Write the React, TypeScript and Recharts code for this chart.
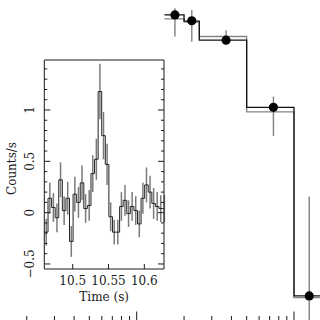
import React from 'react';
import { ComposedChart, Line, Scatter, ErrorBar, XAxis, YAxis } from 'recharts';

// main panel: log-log spectrum, only the upper right part is in the crop
const binEdges = [15, 20, 25, 50, 100, 150];
const modelBlack = [6.5, 5.45, 3.15, 0.455, 0.002];
const modelGray = [5.8, 5.3, 3.5, 0.4, 0.0019];
const pointE = [17.5, 22.4, 37, 74, 125];
const pointFlux = [6.5, 5.5, 3.15, 0.455, 0.002];
const pointLow = [3.5, 3.0, 2.8, 0.2, 0.0005];
const pointHigh = [7.9, 7.5, 4.2, 0.62, 0.035];
const mainTicks = [2, 3, 4, 5, 6, 7, 8, 9, 10, 20, 30, 40, 50, 60, 70, 80, 90, 100];
const mainMajor = [10, 100];

// inset: light curve, 5 ms bins
const lcStart = 10.4605;
const lcBin = 0.005;
const lcRate = [
  -0.19, 0.14, 0.05, -0.05, 0.32, 0.02, 0.14, -0.28, 0.18, 0.1, 0.29, 0.04, 0.07, 0.38, 0.52, 1.18, 0.75,
  0.47, -0.04, -0.19, -0.19, 0.06, 0.12, -0.01, 0.06, 0.02, -0.11, 0.14, 0.27, 0.2, 0.09, 0.06, 0.04, 0.04,
];
const lcErr = [
  0.13, 0.15, 0.14, 0.14, 0.17, 0.14, 0.16, 0.15, 0.17, 0.15, 0.17, 0.14, 0.15, 0.18, 0.2, 0.27, 0.23,
  0.2, 0.14, 0.12, 0.12, 0.14, 0.15, 0.13, 0.14, 0.14, 0.13, 0.15, 0.17, 0.16, 0.15, 0.14, 0.13, 0.13,
];
const insetXTicks = [10.5, 10.55, 10.6];
const insetYTicks = [-0.5, -0.4, -0.3, -0.2, -0.1, 0, 0.1, 0.2, 0.3, 0.4, 0.5, 0.6, 0.7, 0.8, 0.9, 1, 1.1, 1.2, 1.3, 1.4];
const insetYLabels = [-0.5, 0, 0.5, 1];

const FONT = 'DejaVu Serif';
const INK = '#1a1a1a';

const steps = binEdges.map((x, i) => ({
  x,
  black: modelBlack[Math.min(i, modelBlack.length - 1)],
  gray: modelGray[Math.min(i, modelGray.length - 1)],
}));
const points = pointE.map((x, i) => ({
  x,
  y: pointFlux[i],
  err: [pointFlux[i] - pointLow[i], pointHigh[i] - pointFlux[i]],
}));
const lcSteps = lcRate
  .map((c, i) => ({ t: lcStart + i * lcBin, c }))
  .concat([{ t: lcStart + lcRate.length * lcBin, c: lcRate[lcRate.length - 1] }]);
const lcPoints = lcRate.map((c, i) => ({ t: lcStart + (i + 0.5) * lcBin, c, e: lcErr[i] }));

const fmt = (v: number) => (v < 0 ? '\u2212' + String(-v) : String(v));

const MainTick = (p: any) => {
  const len = mainMajor.includes(p.payload.value) ? 8.5 : 4;
  return <line x1={p.x} y1={p.y} x2={p.x} y2={p.y - len} stroke={INK} strokeWidth={1} />;
};

const InsetBottomTick = (p: any) => (
  <g>
    <line x1={p.x} y1={p.y} x2={p.x} y2={p.y - 5} stroke={INK} />
    <text x={p.x} y={p.y + 16} textAnchor="middle" fontFamily={FONT} fontSize={12} fill={INK}>
      {String(p.payload.value)}
    </text>
  </g>
);

const InsetTopTick = (p: any) => <line x1={p.x} y1={p.y} x2={p.x} y2={p.y + 5} stroke={INK} />;

const isMajorY = (v: number) => insetYLabels.some((m) => Math.abs(m - v) < 1e-6);

const InsetLeftTick = (p: any) => {
  const v = p.payload.value;
  const major = isMajorY(v);
  const lx = p.x - 14;
  return (
    <g>
      <line x1={p.x} y1={p.y} x2={p.x + (major ? 6 : 3)} y2={p.y} stroke={INK} />
      {major && (
        <text
          x={lx}
          y={p.y}
          transform={`rotate(-90, ${lx}, ${p.y})`}
          textAnchor="middle"
          dominantBaseline="central"
          fontFamily={FONT}
          fontSize={12}
          fill={INK}
        >
          {fmt(v)}
        </text>
      )}
    </g>
  );
};

const InsetRightTick = (p: any) => {
  const major = isMajorY(p.payload.value);
  return <line x1={p.x} y1={p.y} x2={p.x - (major ? 6 : 3)} y2={p.y} stroke={INK} />;
};

const TimeLabel = (p: any) => {
  const vb = p.viewBox;
  return (
    <text x={vb.x + vb.width / 2} y={vb.y + 32} textAnchor="middle" fontFamily={FONT} fontSize={12} fill={INK}>
      Time (s)
    </text>
  );
};

const CountsLabel = (p: any) => {
  const vb = p.viewBox;
  const cx = 12;
  const cy = vb.y + vb.height / 2 + 4;
  return (
    <text
      x={cx}
      y={cy}
      transform={`rotate(-90, ${cx}, ${cy})`}
      textAnchor="middle"
      dominantBaseline="central"
      fontFamily={FONT}
      fontSize={12}
      fill={INK}
    >
      Counts/s
    </text>
  );
};

export default function App() {
  return (
    <div style={{ position: 'absolute', left: 0, top: 0, width: 320, height: 320, overflow: 'hidden', background: '#fff' }}>
      <div style={{ position: 'absolute', left: 0, top: 0 }}>
        <ComposedChart width={320} height={321} margin={{ top: 0, right: 0, bottom: 0, left: 0 }}>
          <XAxis
            dataKey="x"
            type="number"
            scale="log"
            domain={[1.352, 146.3]}
            allowDataOverflow
            ticks={mainTicks}
            interval={0}
            height={1}
            axisLine={false}
            tickLine={false}
            tickSize={0}
            tickMargin={0}
            tick={MainTick}
          />
          <YAxis type="number" scale="log" domain={[0.001, 10]} allowDataOverflow hide />
          <Line data={steps} dataKey="gray" type="stepAfter" stroke="#858585" strokeWidth={1.3} dot={false} isAnimationActive={false} />
          <Line data={steps} dataKey="black" type="stepAfter" stroke="#111" strokeWidth={1.3} dot={false} isAnimationActive={false} />
          <Scatter
            data={points}
            dataKey="y"
            isAnimationActive={false}
            shape={(p: any) => <circle cx={p.cx} cy={p.cy} r={4.6} fill="#000" />}
          >
            <ErrorBar dataKey="err" direction="y" width={0} stroke="#808080" strokeWidth={1.4} isAnimationActive={false} />
          </Scatter>
        </ComposedChart>
      </div>
      <div style={{ position: 'absolute', left: 0, top: 0 }}>
        <ComposedChart width={320} height={320} margin={{ top: 59, right: 155, bottom: 16, left: 43.3 }}>
          <XAxis
            dataKey="t"
            type="number"
            domain={[10.4603, 10.6275]}
            allowDataOverflow
            ticks={insetXTicks}
            interval={0}
            height={35}
            stroke={INK}
            tickLine={false}
            tickSize={0}
            tickMargin={0}
            tick={InsetBottomTick}
            label={TimeLabel}
          />
          <XAxis
            xAxisId="top"
            orientation="top"
            type="number"
            domain={[10.4603, 10.6275]}
            allowDataOverflow
            ticks={insetXTicks}
            interval={0}
            height={1}
            stroke={INK}
            tickLine={false}
            tickSize={0}
            tickMargin={0}
            tick={InsetTopTick}
          />
          <YAxis
            type="number"
            domain={[-0.549, 1.487]}
            allowDataOverflow
            ticks={insetYTicks}
            interval={0}
            width={1}
            stroke={INK}
            tickLine={false}
            tickSize={0}
            tickMargin={0}
            tick={InsetLeftTick}
            label={CountsLabel}
          />
          <YAxis
            yAxisId="r"
            orientation="right"
            type="number"
            domain={[-0.549, 1.487]}
            allowDataOverflow
            ticks={insetYTicks}
            interval={0}
            width={1}
            stroke={INK}
            tickLine={false}
            tickSize={0}
            tickMargin={0}
            tick={InsetRightTick}
          />
          <Scatter data={lcPoints} dataKey="c" isAnimationActive={false} shape={() => <g />}>
            <ErrorBar dataKey="e" direction="y" width={0} stroke="#7a7a7a" strokeWidth={1.5} isAnimationActive={false} />
          </Scatter>
          <Line data={lcSteps} dataKey="c" type="stepAfter" stroke="#222" strokeWidth={1} dot={false} isAnimationActive={false} />
        </ComposedChart>
      </div>
    </div>
  );
}
